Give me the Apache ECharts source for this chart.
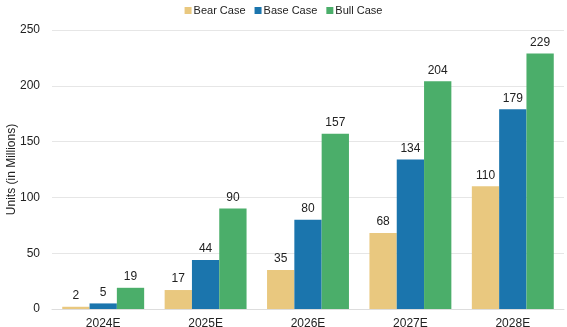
<!DOCTYPE html>
<html><head><meta charset="utf-8">
<script src="https://cdn.jsdelivr.net/npm/echarts@6/dist/echarts.min.js"></script>
<style>html,body{margin:0;padding:0;background:#fff}#c{width:567px;height:327px}</style>
</head><body><div id="c"></div>
<script>
const categories = ['2024E','2025E','2026E','2027E','2028E'];
const bearCase = [2, 17, 35, 68, 110];
const baseCase = [5, 44, 80, 134, 179];
const bullCase = [19, 90, 157, 204, 229];
const yTicks = [0, 50, 100, 150, 200, 250];

const font = 'Liberation Sans, Arial, sans-serif';
const lbl = {show:true, position:'top', color:'#222', fontSize:12, fontFamily:font, distance:5};
const chart = echarts.init(document.getElementById('c'), null, {renderer:'canvas'});
chart.setOption({
  animation:false,
  textStyle:{fontFamily:font},
  legend:{top:0, left:'center', itemWidth:7, itemHeight:7, itemGap:9, icon:'rect',
    textStyle:{fontSize:11, color:'#222', fontFamily:font, padding:[0,0,0,-3]}},
  grid:{left:52, right:3, top:30, bottom:18, containLabel:false, outerBoundsMode:'none'},
  xAxis:{type:'category', data:categories,
    axisLine:{show:true, lineStyle:{color:'#ddd'}}, axisTick:{show:false},
    axisLabel:{color:'#222', fontSize:12, fontFamily:font, margin:9}},
  yAxis:{type:'value', min:yTicks[0], max:yTicks[yTicks.length-1], interval:50,
    name:'Units (in Millions)', nameLocation:'middle', nameGap:34, nameRotate:90,
    nameMoveOverlap:false,
    nameTextStyle:{color:'#222', fontSize:12, fontFamily:font},
    axisLine:{show:false}, axisTick:{show:false},
    axisLabel:{color:'#222', fontSize:12, fontFamily:font, margin:12},
    splitLine:{lineStyle:{color:'#e6e6e6'}}},
  series:[
    {name:'Bear Case', type:'bar', data:bearCase, itemStyle:{color:'#e9c87f'}, label:lbl, barGap:'0%', barCategoryGap:'20%'},
    {name:'Base Case', type:'bar', data:baseCase, itemStyle:{color:'#1b75ad'}, label:lbl, barGap:'0%', barCategoryGap:'20%'},
    {name:'Bull Case', type:'bar', data:bullCase, itemStyle:{color:'#4bae6a'}, label:lbl, barGap:'0%', barCategoryGap:'20%'}
  ]
});
</script></body></html>
